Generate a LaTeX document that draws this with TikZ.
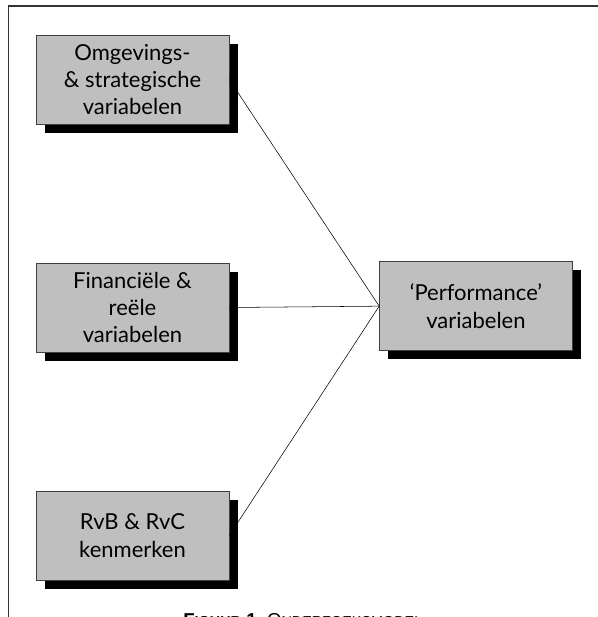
\documentclass[tikz,border=0pt]{standalone}
\usepackage{fontspec}
\setmainfont{Lato}
\newfontfamily\capfont{Liberation Sans}
\usetikzlibrary{positioning, shadows}
\tikzstyle{varbox} = [rectangle,
minimum width=144.75pt,
minimum height=66.75pt,
align=center,
font=\fontsize{16.5}{20.5}\selectfont,
draw=black!75,
fill=black!25,
drop shadow={shadow xshift=6.5pt, shadow yshift=-6.5pt, fill=black, opacity=1}]
\tikzstyle{link} = [thin, black]

\begin{document}
\begin{tikzpicture}[x=0.75pt, y=-0.75pt, node distance=171pt]
  \useasboundingbox (0,0) rectangle (598,617);
  \draw [black!80, line width=0.8pt] (8.5,620) -- (8.5,6) -- (600,6);

  \node (omg) [varbox] at (132.5,79.5) {Omgevings-\\ \& strategische\\ variabelen};
  \node (fin) [varbox, below of=omg] {Financiële \&\\ reële\\ variabelen};
  \node (rvb) [varbox, below of=fin] {RvB \& RvC\\ kenmerken};
  \node (perf) [varbox, right of=fin, node distance=257.6pt, yshift=1pt] {‘Performance’\\ variabelen};

  \draw [link] (omg.east) -- (perf.west);
  \draw [link] (fin.east) -- (perf.west);
  \draw [link] (rvb.east) -- (perf.west);

  % caption, cut off by the page
  \node (cap) [anchor=north west, inner sep=0pt, font=\capfont\fontsize{14}{16}\selectfont] at (183,613)
    {\textbf{F{\fontsize{10.8}{12}\selectfont IGUUR} 1.}\ O{\fontsize{10.8}{12}\selectfont NDERZOEKSMODEL}};
\end{tikzpicture}
\end{document}
